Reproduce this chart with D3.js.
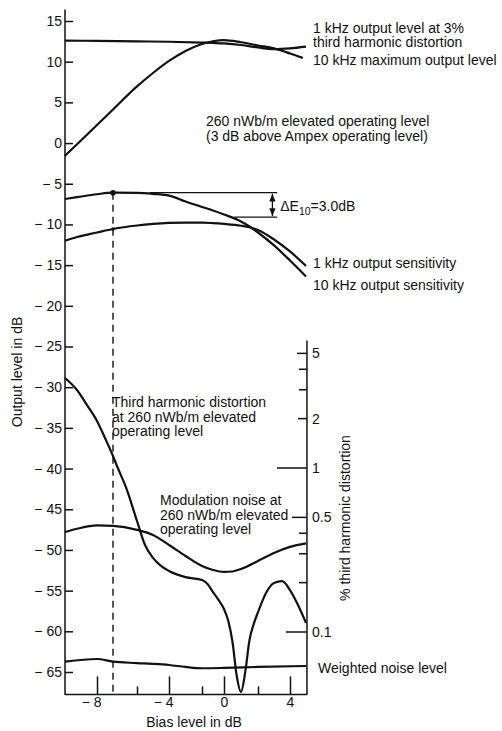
<!DOCTYPE html>
<html>
<head>
<meta charset="UTF-8">
<script src="https://d3js.org/d3.v7.min.js"></script>
<style>
    body { margin: 0; background: #fff; }
    svg { display: block; font-family: "Liberation Sans", Arial, Helvetica, sans-serif; }
    .curve { fill: none; stroke: #111; stroke-width: 2.2; stroke-linejoin: round; }
    .ax line, .ax path { stroke: #111; stroke-width: 1.5; }
    .ax text, .lbl { fill: #111; font-size: 14px; }
</style>
</head>
<body>
<svg id="chart" width="502" height="731"></svg>
<script>
// axis ticks
const biasMajor = [-8, -4, 0, 4];
const biasMinor = [-6, -2, 2];
const dbTicks = [15, 10, 5, 0, -5, -10, -15, -20, -25, -30, -35, -40, -45, -50, -55, -60, -65];
const pctMajor = [5, 2, 1, 0.5, 0.1];
const pctMinor = [4, 3, 0.4, 0.3, 0.2];

// curves: [bias dB, value]
const maxOut1k = [[-9.6,12.6],[-8,12.55],[-6,12.5],[-4,12.45],[-2,12.35],[-1,12.3],[0,12.24],[1,12.05],[2,11.75],[3,11.53],[4,11.63],[5,11.85]];
const maxOut10k = [[-9.6,-1.55],[-9,-0.14],[-8,2.22],[-7.2,4.13],[-6,6.96],[-5,8.61],[-4,10.09],[-3,11.32],[-2,12.18],[-1,12.51],[0,12.65],[1,12.39],[2,11.99],[3,11.63],[4,11.01],[4.8,10.46]];
const sens10k = [[-9.6,-6.87],[-9,-6.65],[-8,-6.29],[-7.2,-6.1],[-6,-6.13],[-5,-6.25],[-4,-6.46],[-3,-7.18],[-2,-7.85],[-1,-8.28],[0,-8.77],[1,-9.63],[1.5,-10.25],[2,-10.99],[3,-12.58],[4,-14.43],[5,-16.39]];
const sens1k = [[-9.6,-12.0],[-9,-11.54],[-8,-10.99],[-7.2,-10.56],[-6,-10.13],[-5,-9.94],[-4,-9.82],[-3,-9.78],[-2,-9.78],[-1,-9.84],[0,-9.94],[1,-10.16],[1.5,-10.35],[2,-10.68],[3,-11.85],[4,-13.32],[5,-15.1]];
const thd = [[-9.6,3.54],[-9,2.99],[-8.5,2.42],[-8,1.934],[-7.6,1.524],[-7.2,1.184],[-7,1.028],[-6.5,0.734],[-6,0.475],[-5.5,0.339],[-5,0.283],[-4.5,0.253],[-4,0.2355],[-3,0.216],[-2,0.2075],[-1.5,0.196],[-1,0.175],[-0.5,0.157],[0,0.138],[0.25,0.117],[0.5,0.0869],[0.75,0.0539],[1,0.0431],[1.25,0.0571],[1.5,0.0894],[1.75,0.112],[2,0.132],[2.5,0.173],[3,0.199],[3.5,0.204],[4,0.18],[4.5,0.146],[5,0.1135]];
const modNoise = [[-9.6,-47.8],[-9,-47.4],[-8,-46.99],[-7.2,-47.05],[-6,-47.54],[-5,-48.16],[-4,-49.39],[-3,-50.74],[-2,-51.97],[-1,-52.46],[0,-52.7],[0.5,-52.65],[1,-52.34],[2,-51.35],[3,-50.37],[4,-49.63],[5,-49.2]];
const weightedNoise = [[-9.6,-63.73],[-8,-63.4],[-7.2,-63.73],[-6,-63.9],[-5,-64.0],[-4,-64.14],[-3,-64.38],[-2,-64.54],[0,-64.5],[2,-64.38],[5,-64.26]];

const opBias = -7.2, opPeak = -6.1, op1k = -10.56;

const svg = d3.select("#chart");

// bias axis of the original is hand drawn, ticks not evenly spaced
const x = d3.scaleLinear().domain([-8, -6, -4, -2, 0, 2, 4]).range([97, 137, 169, 202, 224, 258, 290]);
const y = d3.scaleLinear().domain([15, -65]).range([21, 672]);
const yr = d3.scaleLog().domain([1, 0.1]).range([468, 632]);

const xL = x(-9.6), xR = x(5.06), yB = y(-67.75), yT = y(16.4);

const minus = v => v < 0 ? "\u2212 " + (-v) : "" + v;

// left axis
const gl = svg.append("g").attr("class", "ax")
    .attr("transform", `translate(${xL},0)`)
    .call(d3.axisLeft(y).tickValues(dbTicks).tickSizeInner(-8).tickSizeOuter(0).tickPadding(3).tickFormat(minus));
gl.select(".domain").remove();

// bottom axis
const gb = svg.append("g").attr("class", "ax")
    .attr("transform", `translate(0,${yB})`)
    .call(d3.axisBottom(x).tickValues(biasMajor).tickSizeInner(-18).tickSizeOuter(0).tickPadding(3).tickFormat(minus));
gb.select(".domain").remove();
gb.selectAll("text")
    .attr("text-anchor", d => d < 0 ? "end" : "middle")
    .attr("x", d => d < 0 ? 4 : 0);
const gm = svg.append("g").attr("class", "ax")
    .attr("transform", `translate(0,${yB})`)
    .call(d3.axisBottom(x).tickValues(biasMinor).tickSizeInner(-8).tickSizeOuter(0).tickFormat(""));
gm.select(".domain").remove();

// frame lines
const frame = svg.append("g").attr("class", "ax");
frame.append("line").attr("x1", xL).attr("x2", xL).attr("y1", yT).attr("y2", yB + 0.7);
frame.append("line").attr("x1", xL).attr("x2", xR).attr("y1", yB).attr("y2", yB);
frame.append("line").attr("x1", xR).attr("x2", xR).attr("y1", yr(6)).attr("y2", yB + 0.7);

// right (distortion) axis
const tickLen = {5: 10, 2: 9, 1: 30, 0.5: 15, 0.1: 21};
const gr = svg.append("g").attr("class", "ax");
gr.selectAll(".maj").data(pctMajor).join("line")
    .attr("x1", d => xR - tickLen[d]).attr("x2", xR)
    .attr("y1", d => yr(d)).attr("y2", d => yr(d));
gr.selectAll(".min").data(pctMinor).join("line").attr("class", "min")
    .attr("x1", xR - 8).attr("x2", xR)
    .attr("y1", d => yr(d)).attr("y2", d => yr(d));
gr.selectAll("text").data(pctMajor).join("text")
    .attr("x", xR + 5).attr("y", d => yr(d)).attr("dy", "0.35em")
    .text(d => d);

// curves
const lineDb = d3.line().x(d => x(d[0])).y(d => y(d[1])).curve(d3.curveMonotoneX);
const linePct = d3.line().x(d => x(d[0])).y(d => yr(d[1])).curve(d3.curveMonotoneX);
[maxOut1k, maxOut10k, sens10k, sens1k, modNoise, weightedNoise].forEach(s => {
    svg.append("path").attr("class", "curve").attr("d", lineDb(s));
});
svg.append("path").attr("class", "curve").attr("d", linePct(thd));

// operating point marker
svg.append("line")
    .attr("x1", x(opBias)).attr("x2", x(opBias))
    .attr("y1", y(opPeak)).attr("y2", yB)
    .attr("stroke", "#111").attr("stroke-width", 1.4).attr("stroke-dasharray", "7,5");
svg.append("circle").attr("cx", x(opBias)).attr("cy", y(opPeak)).attr("r", 2.8).attr("fill", "#111");
svg.append("circle").attr("cx", x(opBias)).attr("cy", y(op1k)).attr("r", 1.8).attr("fill", "#111");

// delta E10 bracket
const defs = svg.append("defs");
defs.append("marker").attr("id", "arr").attr("viewBox", "0 0 10 10")
    .attr("refX", 10).attr("refY", 5).attr("markerWidth", 6).attr("markerHeight", 6)
    .attr("orient", "auto-start-reverse")
    .append("path").attr("d", "M0,1 L10,5 L0,9 Z").attr("fill", "#111");
const br = svg.append("g").attr("stroke", "#111").attr("stroke-width", 1.3);
br.append("line").attr("x1", x(-5.2)).attr("x2", x(3.2)).attr("y1", y(opPeak)).attr("y2", y(opPeak));
br.append("line").attr("x1", x(0.6)).attr("x2", x(3.2)).attr("y1", y(opPeak - 3)).attr("y2", y(opPeak - 3));
br.append("line").attr("x1", x(2.9)).attr("x2", x(2.9)).attr("y1", y(opPeak) + 1).attr("y2", y(opPeak - 3) - 1)
    .attr("marker-start", "url(#arr)").attr("marker-end", "url(#arr)");

const dE = svg.append("text").attr("class", "lbl").attr("x", x(3.2) + 3).attr("y", 211);
dE.append("tspan").text("\u0394E");
dE.append("tspan").attr("font-size", "10.5px").attr("dy", 4).text("10");
dE.append("tspan").attr("dy", -4).text("=3.0dB");

// text annotations
function block(lines, x0, y0, step) {
    const t = svg.append("text").attr("class", "lbl");
    lines.forEach((s, i) => t.append("tspan").attr("x", x0).attr("y", y0 + i * step).text(s));
}
block(["1 kHz  output level at 3%", "third harmonic distortion"], 313, 32.5, 14.5);
block(["10 kHz  maximum output level"], 313, 64.5, 14.5);
block(["260 nWb/m elevated operating level", "(3 dB above Ampex operating level)"], 206, 126, 14.5);
block(["1 kHz  output sensitivity"], 313, 268, 14.5);
block(["10 kHz  output sensitivity"], 313, 290, 14.5);
block(["Third harmonic distortion", "at 260 nWb/m elevated", "operating level"], 112, 407, 14.5);
block(["Modulation noise at", "260 nWb/m elevated", "operating level"], 160, 505, 14.5);
block(["Weighted noise level"], 318, 672.5, 14.5);

// axis titles
svg.append("text").attr("class", "lbl").attr("text-anchor", "middle")
    .attr("transform", "translate(22,372) rotate(-90)").text("Output level in dB");
svg.append("text").attr("class", "lbl").attr("text-anchor", "middle")
    .attr("transform", "translate(350,518) rotate(-90)").text("% third harmonic distortion");
svg.append("text").attr("class", "lbl").attr("text-anchor", "middle")
    .attr("x", 194).attr("y", 727).text("Bias level in dB");
</script>
</body>
</html>
